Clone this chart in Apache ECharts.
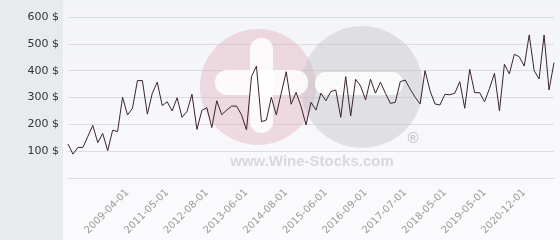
<!DOCTYPE html>
<html>
<head>
<meta charset="utf-8">
<script src="https://cdn.jsdelivr.net/npm/echarts@6/dist/echarts.min.js"></script>
<style>
html,body{margin:0;padding:0;background:#fff;}
#chart{width:560px;height:240px;}
</style>
</head>
<body>
<div id="chart"></div>
<script>
var dates = [
'2005-01-01','2005-06-01','2005-11-01','2006-03-01','2006-07-01','2006-11-01','2007-03-01','2007-07-01','2007-11-01','2008-03-01',
'2008-07-01','2008-11-01','2009-04-01','2009-07-01','2009-10-01','2010-01-01','2010-04-01','2010-07-01','2010-10-01','2011-02-01',
'2011-05-01','2011-07-01','2011-09-01','2011-11-01','2012-01-01','2012-03-01','2012-05-01','2012-06-01','2012-08-01','2012-09-01',
'2012-10-01','2012-11-01','2013-01-01','2013-02-01','2013-03-01','2013-05-01','2013-06-01','2013-08-01','2013-09-01','2013-11-01',
'2014-01-01','2014-03-01','2014-04-01','2014-06-01','2014-08-01','2014-09-01','2014-10-01','2014-12-01','2015-01-01','2015-03-01',
'2015-04-01','2015-05-01','2015-06-01','2015-08-01','2015-10-01','2015-12-01','2016-02-01','2016-03-01','2016-04-01','2016-06-01',
'2016-09-01','2016-10-01','2016-11-01','2017-01-01','2017-02-01','2017-03-01','2017-05-01','2017-06-01','2017-07-01','2017-09-01',
'2017-10-01','2017-12-01','2018-01-01','2018-02-01','2018-03-01','2018-04-01','2018-05-01','2018-07-01','2018-08-01','2018-10-01',
'2018-11-01','2019-01-01','2019-02-01','2019-03-01','2019-05-01','2019-07-01','2019-09-01','2019-11-01','2020-01-01','2020-03-01',
'2020-06-01','2020-09-01','2020-12-01','2021-02-01','2021-04-01','2021-06-01','2021-08-01','2021-10-01','2021-12-01'
];
var prices = [
127,89,114,114,155,196,132,166,102,178,
173,301,235,260,363,363,238,316,357,270,
284,250,299,226,248,312,181,252,262,188,
288,236,253,268,268,235,179,378,417,210,
216,301,235,316,396,275,319,266,198,282,
253,316,288,322,328,226,378,231,368,343,
291,368,316,357,316,278,282,359,365,331,
301,276,400,325,276,272,312,310,316,359,
260,405,318,318,284,334,390,250,424,388,
461,452,417,533,400,369,533,328,430
];
var shownLabels = ['2009-04-01','2011-05-01','2012-08-01','2013-06-01','2014-08-01','2015-06-01','2016-09-01','2017-07-01','2018-05-01','2019-05-01','2020-12-01'];
var yTicks = [0,100,200,300,400,500,600];

var chart = echarts.init(document.getElementById('chart'));
chart.setOption({
  animation:false,
  backgroundColor:'#ffffff',
  graphic:[
    {type:'rect',z:-20,shape:{x:0,y:0,width:63,height:240},style:{fill:'#e7ebee'}},
    {type:'rect',z:-20,shape:{x:63,y:0,width:497,height:240},style:{fill:new echarts.graphic.LinearGradient(0,0,0,1,[{offset:0,color:'#f3f4f8'},{offset:1,color:'#fbfbfd'}])}},
    {type:'circle',z:1,shape:{cx:258,cy:87,r:58},style:{fill:'rgba(222,160,175,0.35)'}},
    {type:'circle',z:1,shape:{cx:362,cy:87,r:61},style:{fill:'rgba(195,195,199,0.45)'}},
    {type:'rect',z:1,shape:{x:250,y:38,width:23,height:95,r:11},style:{fill:'rgba(255,255,255,0.85)'}},
    {type:'rect',z:1,shape:{x:215,y:70,width:93,height:25,r:12},style:{fill:'rgba(255,255,255,0.85)'}},
    {type:'rect',z:1,shape:{x:315,y:72,width:88,height:23,r:11},style:{fill:'rgba(255,255,255,0.85)'}},
    {type:'text',z:1,style:{x:312,y:162,text:'www.Wine-Stocks.com',fill:'#d9d9db',font:'bold 15px "Liberation Sans", Arial, sans-serif',textAlign:'center',textVerticalAlign:'middle'}},
    {type:'text',z:1,style:{x:413,y:139,text:'®',fill:'#c8c8cc',font:'bold 15px "Liberation Sans", Arial, sans-serif',textAlign:'center',textVerticalAlign:'middle'}}
  ],
  grid:{left:68,right:6,top:17,bottom:62,containLabel:false},
  xAxis:{
    type:'category',
    data:dates,
    boundaryGap:false,
    axisLine:{show:true,lineStyle:{color:'#dcdde0',width:1}},
    axisTick:{show:false},
    splitLine:{show:false},
    axisLabel:{
      rotate:45,
      margin:13,
      color:'#9a9a9a',
      fontSize:10,
      fontFamily:'DejaVu Sans',
      interval:function(i,v){return shownLabels.indexOf(v)>=0;}
    }
  },
  yAxis:{
    type:'value',
    min:yTicks[0],
    max:yTicks[yTicks.length-1],
    interval:100,
    axisLine:{show:false},
    axisTick:{show:false},
    splitLine:{show:true,lineStyle:{color:'#dcdde0',width:1}},
    axisLabel:{
      margin:9,
      color:'#333333',
      fontSize:11,
      fontFamily:'DejaVu Sans',
      formatter:function(v){return v===0?'':v+' $';}
    }
  },
  series:[{
    type:'line',
    data:prices,
    z:5,
    symbol:'none',
    lineStyle:{color:'#3b2330',width:1}
  }]
});
</script>
</body>
</html>
